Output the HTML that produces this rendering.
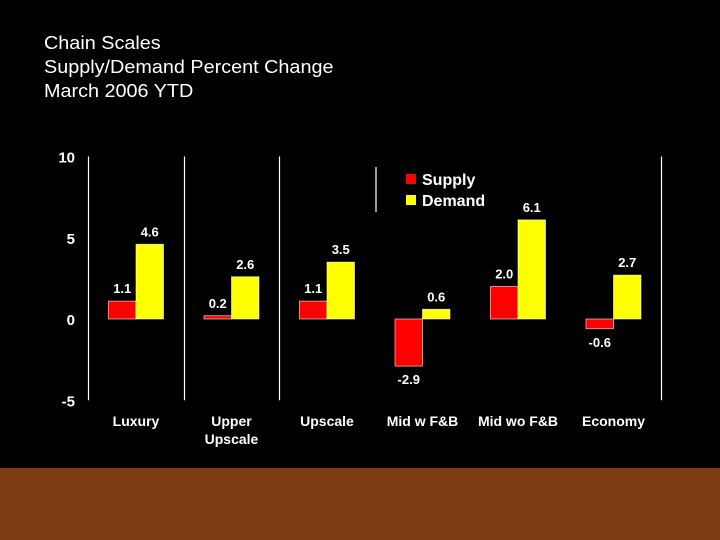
<!DOCTYPE html>
<html><head><meta charset="utf-8"><style>
html,body{margin:0;padding:0;background:#000;}
#wrap{position:relative;width:720px;height:540px;background:#000;overflow:hidden;font-family:"Liberation Sans",Arial,sans-serif;}
.t{position:absolute;left:44px;color:#fff;font-size:18px;line-height:24px;white-space:nowrap;transform:scaleX(1.1);transform-origin:0 0;}
#band{position:absolute;left:0;top:468px;width:720px;height:72px;background:#7e3a13;}
</style></head><body>
<div id="wrap">
<div class="t" style="top:31px">Chain Scales</div>
<div class="t" style="top:55px">Supply/Demand Percent Change</div>
<div class="t" style="top:79px">March 2006 YTD</div>
<svg id="chart" width="720" height="540" style="position:absolute;left:0;top:0"></svg>
<div id="band"></div>
</div>
<script>
const categories = [["Luxury"],["Upper","Upscale"],["Upscale"],["Mid w F&B"],["Mid wo F&B"],["Economy"]];
const supply = [1.1, 0.2, 1.1, -2.9, 2.0, -0.6];
const demand = [4.6, 2.6, 3.5, 0.6, 6.1, 2.7];
const yTicks = [10, 5, 0, -5];
const seriesNames = ["Supply","Demand"];

const NS = "http://www.w3.org/2000/svg";
const svg = document.getElementById('chart');
const y0 = 319, ppu = 16.25;
function yScale(v){ return y0 - v*ppu; }
function xCenter(i){ return 136 + i*95.5; }
const bw = 27.5;
function mk(tag, attrs, parent){ const e=document.createElementNS(NS,tag); for(const k in attrs) e.setAttribute(k,attrs[k]); (parent||svg).appendChild(e); return e; }

const seps = [88.5, 184.5, 279.5, 661.5];
seps.forEach((x,i)=>{
  const l = mk('line',{x1:x,x2:x,y1:yScale(10),y2:yScale(-5),stroke:'#fff','stroke-width':1.2});
  
  
});
const ls = mk('line',{x1:376,x2:376,y1:167,y2:212,stroke:'#fff','stroke-width':1.2});



yTicks.forEach(v=>{
  const t = mk('text',{x:75,y:yScale(v)+6,'text-anchor':'end',fill:'#fff','font-size':15,'font-weight':'bold','font-family':'Liberation Sans, Arial, sans-serif'});
  t.textContent = v;
  
  
});

function bar(v, x, color, name){
  const top = Math.min(yScale(v), y0), h = Math.abs(yScale(v)-y0);
  const r = mk('rect',{x:x,y:top,width:bw,height:Math.max(h,1),fill:color,stroke:'#ffffff','stroke-opacity':0.7,'stroke-width':0.8});
  
  
  const ly = v>=0 ? yScale(v)-8 : yScale(v)+18;
  const t = mk('text',{x:x+bw/2,y:ly,'text-anchor':'middle',fill:'#fff','font-size':13,'font-weight':'bold','font-family':'Liberation Sans, Arial, sans-serif'});
  t.textContent = v.toFixed(1);
  
  
}
categories.forEach((c,i)=>{
  const cx = xCenter(i);
  bar(supply[i], cx-bw, '#ff0000', 'supply-bar');
  bar(demand[i], cx, '#ffff00', 'demand-bar');
  c.forEach((line,j)=>{
    const t = mk('text',{x:cx,y:426+j*18,'text-anchor':'middle',fill:'#fff','font-size':14,'font-weight':'bold','font-family':'Liberation Sans, Arial, sans-serif'});
    t.textContent = line;
    
    
  });
});

const lcol = ['#ff0000','#ffff00'];
seriesNames.forEach((n,i)=>{
  const g = mk('g',{});
  
  
  mk('rect',{x:406,y:174+i*21,width:10,height:10,fill:lcol[i]},g);
  const t = mk('text',{x:422,y:185+i*21,fill:'#fff','font-size':16,'font-weight':'bold','font-family':'Liberation Sans, Arial, sans-serif'},g);
  t.textContent = n;
});
</script>
</body></html>
